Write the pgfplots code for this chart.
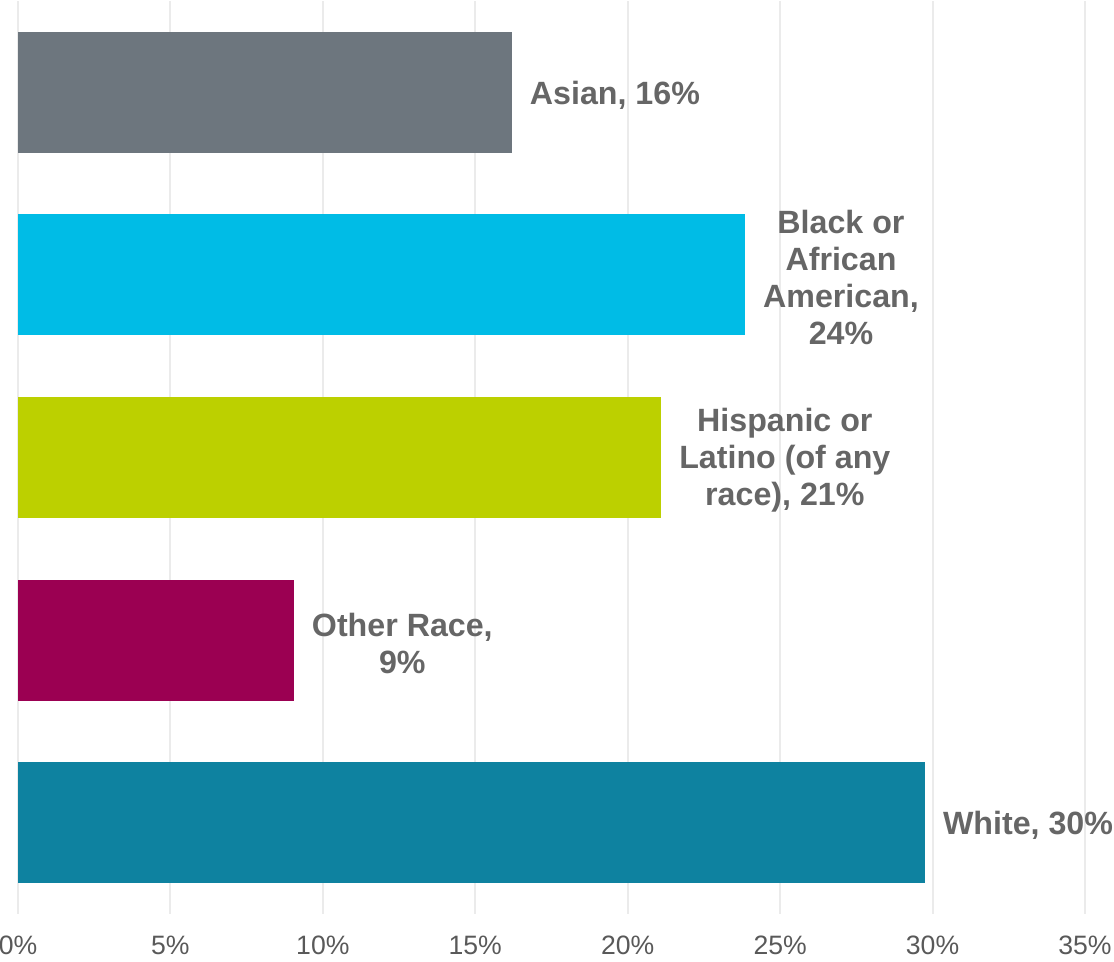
\documentclass[border=0pt]{standalone}
\usepackage{pgfplots}
\pgfplotsset{compat=1.18}
\usepackage{fontspec}
\setmainfont{Liberation Sans}
\definecolor{cAsian}{HTML}{6D767E}
\definecolor{cBlack}{HTML}{00BCE6}
\definecolor{cHisp}{HTML}{BCD000}
\definecolor{cOther}{HTML}{9B0052}
\definecolor{cWhite}{HTML}{0E82A0}
\definecolor{lbl}{HTML}{666666}
\definecolor{tck}{HTML}{595959}
\definecolor{grd}{HTML}{EBEBEB}
\begin{document}
\begin{tikzpicture}
\begin{axis}[
  name=ax,
  scale only axis,
  width=533.5pt, height=456.5pt,
  xbar, bar width=60.5pt, bar shift=0pt,
  xmin=0, xmax=35,
  ymin=-0.5, ymax=4.5,
  xtick={0,5,10,15,20,25,30,35},
  xticklabels={0\%,5\%,10\%,15\%,20\%,25\%,30\%,35\%},
  ytick=\empty,
  axis line style={draw=none},
  major tick length=0pt,
  xmajorgrids,
  grid style={grd, line width=1pt},
  tick label style={font=\fontsize{13.3pt}{15pt}\selectfont, text=tck},
  xticklabel style={yshift=-7.5pt},
  clip=false,
]
\addplot[draw=none, fill=cAsian] coordinates {(16.2,4)};
\addplot[draw=none, fill=cBlack] coordinates {(23.85,3)};
\addplot[draw=none, fill=cHisp] coordinates {(21.1,2)};
\addplot[draw=none, fill=cOther] coordinates {(9.05,1)};
\addplot[draw=none, fill=cWhite] coordinates {(29.75,0)};
\begin{scope}[every node/.style={anchor=west, align=center, text=lbl, font=\fontsize{16.1pt}{18.5pt}\selectfont\bfseries, xshift=5.5pt, yshift=-1.5pt}]
\node at (axis cs:16.2,4) {Asian, 16\%};
\node at (axis cs:23.85,3) {Black or\\African\\American,\\24\%};
\node at (axis cs:21.1,2) {Hispanic or\\Latino (of any\\race), 21\%};
\node at (axis cs:9.05,1) {Other Race,\\9\%};
\node at (axis cs:29.75,0) {White, 30\%};
\end{scope}
\end{axis}
\pgfresetboundingbox
\path[use as bounding box] ([xshift=-9pt,yshift=-24pt]ax.south west) rectangle ([xshift=14.5pt,yshift=0.5pt]ax.north east);
\end{tikzpicture}
\end{document}
